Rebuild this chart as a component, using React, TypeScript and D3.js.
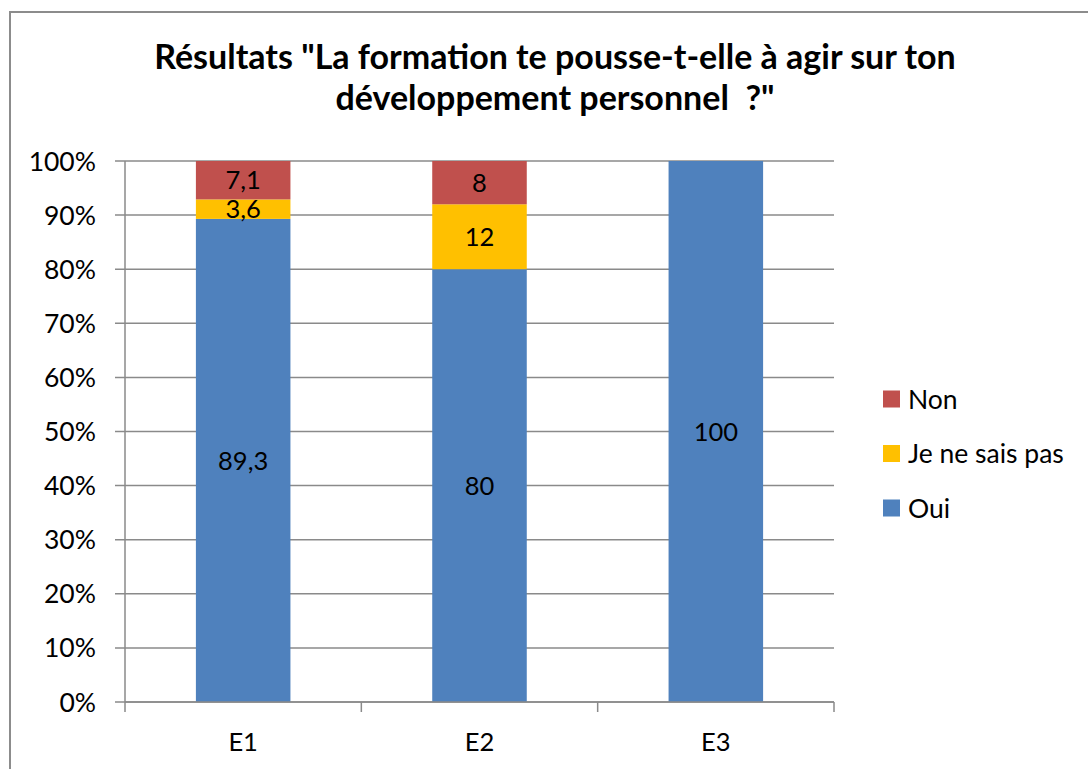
import React from "react";
import * as d3 from "d3";

// data
const categories = ["E1", "E2", "E3"];
const seriesNames = ["Oui", "Je ne sais pas", "Non"];
const oui = [89.3, 80, 100];
const jeNeSaisPas = [3.6, 12, 0];
const non = [7.1, 8, 0];
const yTicks = [0, 10, 20, 30, 40, 50, 60, 70, 80, 90, 100];
const titleLines = [
  "Résultats \"La formation te pousse-t-elle à agir sur ton",
  "développement personnel  ?\"",
];

const colors: any = { "Oui": "#4F81BD", "Je ne sais pas": "#FFC000", "Non": "#C0504D" };
const FONT = "Lato, 'Open Sans', sans-serif";

const App = () => {
  const left = 125, right = 834, top = 161, bottom = 702;
  const x = d3.scaleBand().domain(categories).range([left, right]).padding(0);
  const y = d3.scaleLinear().domain([0, 100]).range([bottom, top]);
  const barW = x.bandwidth() * 0.4;

  const rows = categories.map((c, i) => ({
    cat: c,
    "Oui": oui[i],
    "Je ne sais pas": jeNeSaisPas[i],
    "Non": non[i],
  }));
  const stacked = d3.stack<any>().keys(seriesNames)(rows);
  const fmt = (v: number) => String(v).replace(".", ",");

  const legendOrder = ["Non", "Je ne sais pas", "Oui"];

  return (
    <svg width={1088} height={769} style={{ position: "absolute", left: 0, top: 0, background: "#fff" }}>
      <rect x={10} y={12} width={1200} height={900} fill="#fff" stroke="#8c8c8c" strokeWidth={2} />

      {titleLines.map((t, i) => (
        <text key={i} x={555} y={69 + i * 41} textAnchor="middle" fontFamily={FONT}
          fontWeight="bold" fontSize={34} fill="#000" style={{ whiteSpace: "pre" }}>{t}</text>
      ))}

      {/* gridlines + y ticks */}
      {yTicks.map(t => (
        <g key={t}>
          <line x1={115} x2={right} y1={y(t)} y2={y(t)} stroke="#8a8a8a" strokeWidth={1.5} />
          <text x={96} y={y(t)} dy="0.36em" textAnchor="end" fontFamily={FONT} fontSize={26.5} fill="#000">{t}%</text>
        </g>
      ))}

      {/* bars */}
      {stacked.map(s => (
        <g key={s.key} fill={colors[s.key]}>
          {s.map((d: any, i) => {
            const v = d.data[s.key];
            if (!v) return null;
            const cx = (x(categories[i]) as number) + x.bandwidth() / 2;
            return (
              <g key={i}>
                <rect x={cx - barW / 2} y={y(d[1])} width={barW} height={y(d[0]) - y(d[1])} />
                <text x={cx} y={(y(d[0]) + y(d[1])) / 2} dy="0.36em" textAnchor="middle"
                  fontFamily={FONT} fontSize={25.5} fill="#000">{fmt(v)}</text>
              </g>
            );
          })}
        </g>
      ))}

      {/* axes */}
      <line x1={left} x2={left} y1={top} y2={bottom + 10} stroke="#8a8a8a" strokeWidth={1.5} />
      <line x1={left} x2={right} y1={bottom} y2={bottom} stroke="#8a8a8a" strokeWidth={1.5} />
      {categories.map((c, i) => (
        <g key={c}>
          <line x1={(x(c) as number) + x.bandwidth()} x2={(x(c) as number) + x.bandwidth()}
            y1={bottom} y2={bottom + 10} stroke="#8a8a8a" strokeWidth={1.5} />
          <text x={(x(c) as number) + x.bandwidth() / 2} y={742} dy="0.36em" textAnchor="middle"
            fontFamily={FONT} fontSize={25.5} fill="#000">{c}</text>
        </g>
      ))}

      {/* legend */}
      {legendOrder.map((k, i) => (
        <g key={k} transform={`translate(883, ${399 + i * 54.5})`}>
          <rect x={0} y={-8.5} width={17} height={17} fill={colors[k]} />
          <text x={25} y={0} dy="0.36em" fontFamily={FONT} fontSize={26.5} fill="#000">{k}</text>
        </g>
      ))}
    </svg>
  );
};

export default App;
